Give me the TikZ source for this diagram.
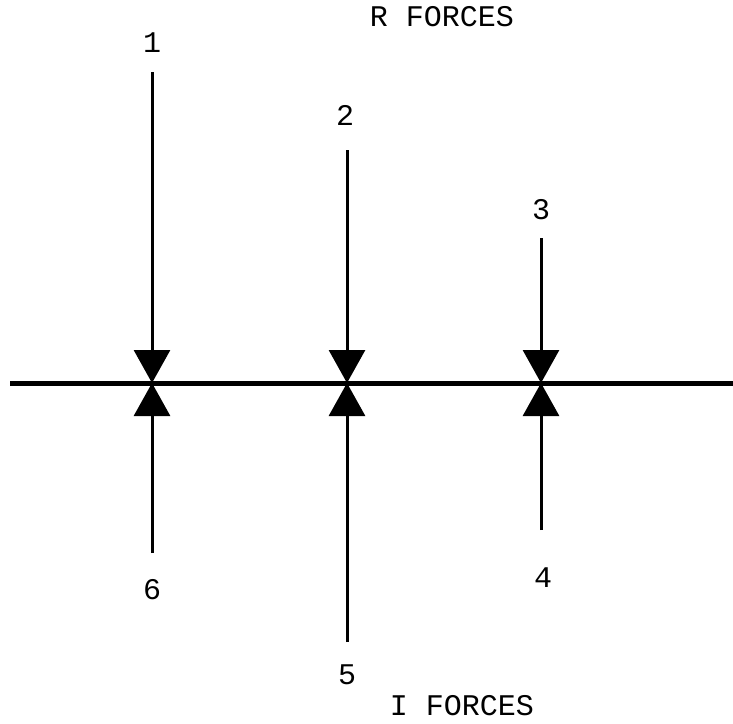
\documentclass[tikz,border=0pt]{standalone}
\usepackage{fontspec}
\setmainfont{Liberation Mono}
\usetikzlibrary{arrows.meta}
\tikzset{
  force/.style={line width=3pt, -{Triangle[width=36pt,length=33pt]}},
  beam/.style={line width=5pt},
  lbl/.style={font=\fontsize{30}{34}\selectfont, inner sep=0pt}
}

\begin{document}
\begin{tikzpicture}[x=1pt,y=-1pt]
\useasboundingbox (0,0) rectangle (733,723);

% the beam
\coordinate (L) at (10,383);
\coordinate (R) at (733,383);
\draw[beam] (L) -- (R);

% points where the forces act
\coordinate (p1) at (152,383);
\coordinate (p2) at (347,383);
\coordinate (p3) at (541,383);

% R forces, from above
\coordinate (a1) at (152,72);
\coordinate (a2) at (347,150);
\coordinate (a3) at (541,238);
\node[lbl] (n1) at (152,43) {1};
\node[lbl] (n2) at (345,115) {2};
\node[lbl] (n3) at (541,210) {3};
\draw[force] (a1) -- (p1);
\draw[force] (a2) -- (p2);
\draw[force] (a3) -- (p3);

% I forces, from below
\coordinate (b6) at (152,553);
\coordinate (b5) at (347,642);
\coordinate (b4) at (541,530);
\node[lbl] (n6) at (152,590) {6};
\node[lbl] (n5) at (347,675) {5};
\node[lbl] (n4) at (543,578) {4};
\draw[force] (b6) -- (p1);
\draw[force] (b5) -- (p2);
\draw[force] (b4) -- (p3);

% titles
\node[lbl] (rf) at (442,17) {R FORCES};
\node[lbl] (if) at (462,706) {I FORCES};
\end{tikzpicture}
\end{document}
